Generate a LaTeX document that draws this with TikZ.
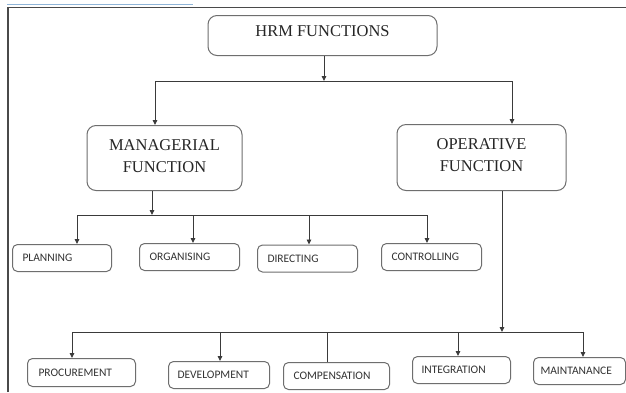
\documentclass[tikz,border=0pt]{standalone}
\usepackage{fontspec}
\setmainfont{Liberation Serif}
\newfontfamily\boxfont{Carlito}
\usetikzlibrary{arrows.meta}
\definecolor{framegray}{HTML}{4A4A4A}
\definecolor{boxgray}{HTML}{6E6E6E}
\definecolor{linegray}{HTML}{3A3A3A}
\definecolor{tabblue}{HTML}{8FB5D8}
\tikzset{
  bigbox/.style={draw=boxgray, line width=1pt, rounded corners=9pt, fill=white,
    font=\fontsize{16.5}{22}\selectfont, align=center, text=black!85,
    inner xsep=0pt, inner ysep=0pt},
  smallbox/.style={draw=boxgray, line width=1pt, rounded corners=5pt, fill=white,
    font=\boxfont\fontsize{11.5}{13}\selectfont, text=black!80, align=left,
    anchor=north west, inner xsep=10pt, minimum height=27pt, text height=8pt, text depth=1pt},
  conn/.style={draw=linegray, line width=0.9pt},
  arr/.style={conn, -{Triangle[length=5pt,width=4.5pt]}},
}
\begin{document}
\begin{tikzpicture}[x=1pt,y=-1pt]
  \useasboundingbox (0,0) rectangle (626,392);
  \fill[white] (0,0) rectangle (626,392);
  % page frame and tab line
  \draw[tabblue, line width=1pt] (7,4.5) -- (193,4.5);
  \draw[framegray, line width=1.4pt] (8,392) -- (8,7.5) -- (626,7.5);

  % top level
  \node[bigbox, minimum width=229pt, text height=20.5pt, text depth=19.5pt, anchor=north] (hrm) at (322.5,15) {HRM FUNCTIONS};
  \node[bigbox, minimum width=155pt, text height=46.5pt, text depth=18.5pt, anchor=north] (man) at (164.5,125) {MANAGERIAL\\FUNCTION};
  \node[bigbox, minimum width=169pt, text height=46.5pt, text depth=19.5pt, anchor=north] (ope) at (481.5,124) {OPERATIVE\\FUNCTION};

  % managerial functions
  \node[smallbox, text width=79pt] (pla) at (12,244) {PLANNING};
  \node[smallbox, text width=80pt] (org) at (139,243) {ORGANISING};
  \node[smallbox, text width=80pt] (dir) at (257,244.5) {DIRECTING};
  \node[smallbox, text width=80pt] (con) at (381,243) {CONTROLLING};

  % operative functions
  \node[smallbox, text width=86pt, minimum height=28pt, inner xsep=11pt] (pro) at (27,358) {PROCUREMENT};
  \node[smallbox, text width=83pt, inner xsep=9pt] (dev) at (168,361) {DEVELOPMENT};
  \node[smallbox, text width=86pt] (com) at (283,362) {COMPENSATION};
  \node[smallbox, text width=80pt, inner xsep=9pt] (int) at (412,356) {INTEGRATION};
  \node[smallbox, text width=78pt, inner xsep=7pt] (mai) at (533,357) {MAINTANANCE};

  % junction points
  \coordinate (j0) at (324,81);
  \coordinate (jl) at (155,81);
  \coordinate (jr) at (512,81);
  \coordinate (m0) at (152,215);
  \coordinate (m1) at (77,215);
  \coordinate (m2) at (193,215);
  \coordinate (m3) at (309,215);
  \coordinate (m4) at (427,215);
  \coordinate (o0) at (502,332);
  \coordinate (o1) at (72,332);
  \coordinate (o2) at (220,332);
  \coordinate (o3) at (327,332);
  \coordinate (o4) at (458,332);
  \coordinate (o5) at (583,332);

  % top level connectors
  \draw[arr] (hrm.south -| j0) -- (j0);
  \draw[conn] (jl) -- (jr);
  \draw[arr] (jl) -- (jl |- man.north);
  \draw[arr] (jr) -- (jr |- ope.north);

  % managerial connectors
  \draw[arr] (man.south -| m0) -- (m0);
  \draw[conn] (m1) -- (m4);
  \draw[arr] (m1) -- (m1 |- pla.north);
  \draw[arr] (m2) -- (m2 |- org.north);
  \draw[arr] (m3) -- (m3 |- dir.north);
  \draw[arr] (m4) -- (m4 |- con.north);

  % operative connectors
  \draw[arr] (ope.south -| o0) -- (o0);
  \draw[conn] (o1) -- (o5);
  \draw[arr] (o1) -- (o1 |- pro.north);
  \draw[arr] (o2) -- (o2 |- dev.north);
  \draw[conn] (o3) -- (o3 |- com.north);
  \draw[arr] (o4) -- (o4 |- int.north);
  \draw[arr] (o5) -- (o5 |- mai.north);
\end{tikzpicture}
\end{document}
